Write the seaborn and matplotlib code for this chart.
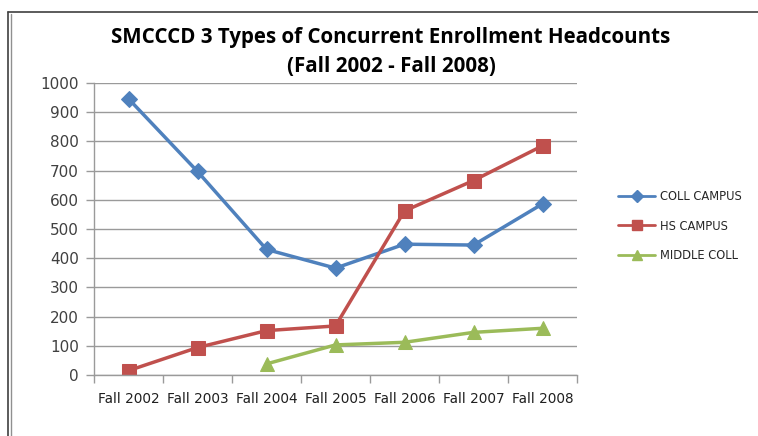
import matplotlib
matplotlib.use("Agg")
import matplotlib.pyplot as plt
from matplotlib.lines import Line2D
import numpy as np
import pandas as pd
import seaborn as sns

categories = ["Fall 2002", "Fall 2003", "Fall 2004", "Fall 2005", "Fall 2006", "Fall 2007", "Fall 2008"]
coll_campus = [946, 697, 430, 366, 448, 445, 586]
hs_campus = [15, 94, 152, 168, 562, 666, 785]
middle_coll = [np.nan, np.nan, 38, 103, 112, 146, 160]
series_names = ["COLL CAMPUS", "HS CAMPUS", "MIDDLE COLL"]
y_ticks = list(range(0, 1001, 100))

sns.set_theme(style="white")
plt.rcParams["font.family"] = ["Open Sans", "DejaVu Sans"]

colors = ["#4F81BD", "#C0504D", "#9BBB59"]
markers = ["D", "s", "^"]
msizes = [8, 10, 10]

fig = plt.figure(figsize=(7.58, 4.36), dpi=100)
ax = fig.add_axes([94 / 758, (436 - 375) / 436, (577 - 94) / 758, (375 - 83) / 436])

for name, vals, c, m, ms in zip(series_names, [coll_campus, hs_campus, middle_coll], colors, markers, msizes):
    df = pd.DataFrame({"x": np.arange(len(categories)), "y": vals}).dropna()
    sns.lineplot(data=df, x="x", y="y", ax=ax, color=c, marker=m, markersize=ms,
                 markeredgecolor=c, linewidth=2.5, label=name, sort=False, legend=False)

ax.set_xlim(-0.5, len(categories) - 0.5)
ax.set_ylim(0, 1000)
ax.set_yticks(y_ticks)
ax.set_yticklabels([str(t) for t in y_ticks], fontsize=11, color="#404040",
                   family=["DejaVu Sans"])
ax.yaxis.grid(True, color="#9a9a9a", linewidth=1)
ax.set_axisbelow(True)
ax.tick_params(axis="y", length=6, color="#9a9a9a", width=1, direction="out", pad=5, left=True)

ax.set_xticks(np.arange(len(categories)))
ax.set_xticklabels(categories, fontsize=9.8, color="#202020", family=["DejaVu Sans"])
ax.set_xticks(np.arange(-0.5, len(categories)), minor=True)
ax.tick_params(axis="x", which="major", length=0, pad=12)
ax.tick_params(axis="x", which="minor", length=6, color="#9a9a9a", width=1, bottom=True)
ax.set_xlabel("")
ax.set_ylabel("")

for s in ["top", "right"]:
    ax.spines[s].set_visible(False)
for s in ["left", "bottom"]:
    ax.spines[s].set_color("#9a9a9a")
    ax.spines[s].set_linewidth(1)

cx = 391 / 758
fig.text(cx, 1 - 38 / 436, "SMCCCD 3 Types of Concurrent Enrollment Headcounts",
         ha="center", va="center", fontsize=14.8, fontweight="bold", color="#000000")
fig.text(cx, 1 - 67 / 436, "(Fall 2002 - Fall 2008)",
         ha="center", va="center", fontsize=14.8, fontweight="bold", color="#000000")

handles = [Line2D([0], [0], color=c, marker=m, markersize=ms * 0.75, linewidth=2, markeredgecolor=c)
           for c, m, ms in zip(colors, markers, msizes)]
leg = fig.legend(handles, series_names, loc="center left", bbox_to_anchor=(608 / 758, 1 - 226 / 436),
                 frameon=False, labelspacing=1.45, handlelength=3.2, handletextpad=0.4,
                 prop={"size": 8.3, "family": ["DejaVu Sans"]})

# outer frame
fig.add_artist(Line2D([8 / 758, 1], [1 - 12 / 436, 1 - 12 / 436], color="#404040", linewidth=1.2,
                      transform=fig.transFigure))
fig.add_artist(Line2D([8 / 758, 8 / 758], [0, 1 - 12 / 436], color="#404040", linewidth=1.2,
                      transform=fig.transFigure))
fig.add_artist(Line2D([11 / 758, 11 / 758], [0, 1 - 14 / 436], color="#909090", linewidth=1,
                      transform=fig.transFigure))

fig.savefig("out.png", dpi=100)
